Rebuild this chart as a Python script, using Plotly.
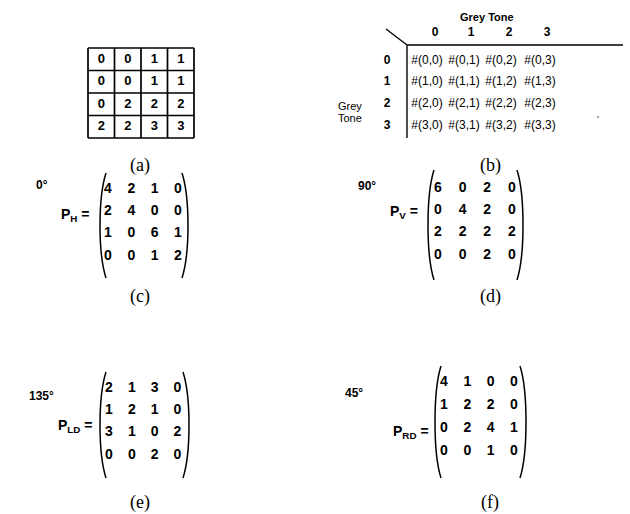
import plotly.graph_objects as go

# ---------------- data ----------------
grey_levels = [0, 1, 2, 3]
image_a = [[0, 0, 1, 1],
           [0, 0, 1, 1],
           [0, 2, 2, 2],
           [2, 2, 3, 3]]
P_H = [[4, 2, 1, 0],
       [2, 4, 0, 0],
       [1, 0, 6, 1],
       [0, 0, 1, 2]]
P_V = [[6, 0, 2, 0],
       [0, 4, 2, 0],
       [2, 2, 2, 2],
       [0, 0, 2, 0]]
P_LD = [[2, 1, 3, 0],
        [1, 2, 1, 0],
        [3, 1, 0, 2],
        [0, 0, 2, 0]]
P_RD = [[4, 1, 0, 0],
        [1, 2, 2, 0],
        [0, 2, 4, 1],
        [0, 0, 1, 0]]
matrix_names = ["H", "V", "LD", "RD"]
angle_labels = ["0°", "90°", "135°", "45°"]
captions = ["(a)", "(b)", "(c)", "(d)", "(e)", "(f)"]

W, H = 630, 514
SANS = "Liberation Sans"
SERIF = "Liberation Serif"

fig = go.Figure()
shapes = []
annotations = []

def ann(x, y, text, size=13, family=SANS, xanchor="center", yanchor="middle", weight="normal"):
    annotations.append(dict(x=x, y=y, xref="x", yref="y", text=text, showarrow=False,
                            xanchor=xanchor, yanchor=yanchor,
                            font=dict(family=family, size=size, color="black", weight=weight)))

def line(x0, y0, x1, y1, w=1.5):
    shapes.append(dict(type="line", x0=x0, y0=y0, x1=x1, y1=y1, xref="x", yref="y",
                       line=dict(color="black", width=w)))

def text_trace(xs, ys, ts, size, weight="bold"):
    fig.add_trace(go.Scatter(x=xs, y=ys, text=ts, mode="text", hoverinfo="skip",
                             textfont=dict(family=SANS, size=size, color="black", weight=weight)))

# ---------------- (a) image grid ----------------
gx0, gy0, cw, ch = 88, 48, 26.5, 22.5
for k in range(5):
    line(gx0 + k * cw, gy0, gx0 + k * cw, gy0 + 4 * ch, 1.7)
    line(gx0, gy0 + k * ch, gx0 + 4 * cw, gy0 + k * ch, 1.7)
xs, ys, ts = [], [], []
for i, row in enumerate(image_a):
    for j, v in enumerate(row):
        xs.append(gx0 + (j + 0.5) * cw)
        ys.append(gy0 + (i + 0.5) * ch)
        ts.append(str(v))
text_trace(xs, ys, ts, 13)

# ---------------- (b) general co-occurrence form ----------------
ann(487, 17, "Grey Tone", size=11, weight="bold")
head_x = [435, 471, 509, 547]
cell_x = [427, 464, 501, 540]
row_y = [61, 82, 104, 126]
xs, ys, ts = [], [], []
for j, g in enumerate(grey_levels):
    xs.append(head_x[j]); ys.append(33); ts.append(str(g))
for i, g in enumerate(grey_levels):
    xs.append(387); ys.append(row_y[i]); ts.append(str(g))
text_trace(xs, ys, ts, 12)
xs, ys, ts = [], [], []
for i, g in enumerate(grey_levels):
    for j, h in enumerate(grey_levels):
        xs.append(cell_x[j]); ys.append(row_y[i]); ts.append("#(%d,%d)" % (g, h))
text_trace(xs, ys, ts, 12, weight="normal")
line(386, 29, 407, 45, 1.4)
line(407, 45, 623, 45, 1.4)
line(407, 45, 407, 138, 1.4)
ann(350, 106, "Grey", size=11)
ann(350, 118, "Tone", size=11)
ann(598, 119, "'", size=9)

# ---------------- (c)-(f) matrices ----------------
panels = [
    # matrix, x0, dx, y0, dy, paren L, paren R, top, bottom, label right x, label y, angle x, angle y
    (P_H, 108, 23.3, 189, 22.4, 101, 187, 173, 278, 92, 215, 42, 185),
    (P_V, 438, 24.6, 188, 22.4, 429, 522, 170, 280, 420, 212, 367, 186),
    (P_LD, 109, 22.8, 388, 22.4, 101, 188, 372, 478, 94, 426, 41, 396),
    (P_RD, 444, 23.3, 382, 23.3, 436, 525, 366, 478, 431, 432, 354, 393),
]
for k, (M, x0, dx, y0, dy, pl, pr, top, bot, lx, ly, axx, axy) in enumerate(panels):
    xs, ys, ts = [], [], []
    for i, row in enumerate(M):
        for j, v in enumerate(row):
            xs.append(x0 + j * dx)
            ys.append(y0 + i * dy)
            ts.append(str(v))
    text_trace(xs, ys, ts, 14)
    shapes.append(dict(type="path", xref="x", yref="y",
                       path="M %f,%f C %f,%f %f,%f %f,%f" % (pl + 5, top, pl - 3, top + 25,
                                                            pl - 3, bot - 25, pl + 5, bot),
                       line=dict(color="black", width=1.5)))
    shapes.append(dict(type="path", xref="x", yref="y",
                       path="M %f,%f C %f,%f %f,%f %f,%f" % (pr - 5, top, pr + 3, top + 25,
                                                            pr + 3, bot - 25, pr - 5, bot),
                       line=dict(color="black", width=1.5)))
    ann(lx, ly, "P<sub>%s</sub> =" % matrix_names[k], size=14, xanchor="right", weight="bold")
    ann(axx, axy, angle_labels[k], size=12, weight="bold")

# ---------------- captions ----------------
cap_pos = [(140, 165), (490, 165), (140, 296), (490, 296), (140, 502), (490, 502)]
for (cx, cy), c in zip(cap_pos, captions):
    ann(cx, cy, c, size=18, family=SERIF)

fig.update_layout(
    width=W, height=H, margin=dict(l=0, r=0, t=0, b=0),
    paper_bgcolor="white", plot_bgcolor="white", showlegend=False,
    xaxis=dict(range=[0, W], visible=False, fixedrange=True),
    yaxis=dict(range=[H, 0], visible=False, fixedrange=True),
    shapes=shapes, annotations=annotations,
)
fig.write_html("out.html", config={"displayModeBar": False},
               post_script="document.body.style.margin='0';document.body.style.overflow='hidden';")
